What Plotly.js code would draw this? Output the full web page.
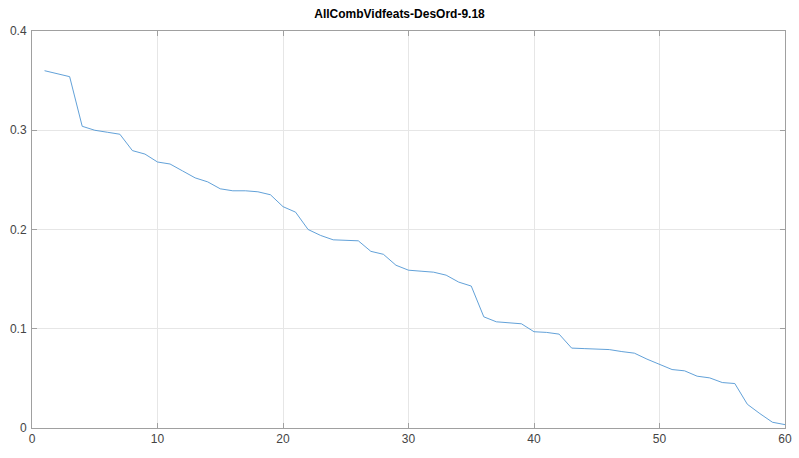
<!DOCTYPE html>
<html>
<head>
<meta charset="utf-8">
<script src="https://cdn.plot.ly/plotly-3.0.1.min.js"></script>
<style>
  html, body { margin: 0; padding: 0; background: #fff; }
  #chart { width: 799px; height: 458px; }
</style>
</head>
<body>
<div id="chart"></div>
<script>
// values, index 1..60
var scoreValues = [0.360, 0.357, 0.354, 0.304, 0.300, 0.298, 0.296, 0.2795, 0.276, 0.268,
                   0.266, 0.259, 0.252, 0.248, 0.241, 0.239, 0.239, 0.238, 0.235, 0.223,
                   0.2175, 0.200, 0.194, 0.1896, 0.189, 0.1886, 0.178, 0.175, 0.164, 0.159,
                   0.158, 0.157, 0.154, 0.147, 0.143, 0.112, 0.107, 0.106, 0.105, 0.097,
                   0.0963, 0.0946, 0.0805, 0.080, 0.0797, 0.079, 0.077, 0.0754, 0.0694, 0.0643,
                   0.0589, 0.0576, 0.0522, 0.0505, 0.0458, 0.0448, 0.0239, 0.0145, 0.0058, 0.0034];
var xTicks = [0, 10, 20, 30, 40, 50, 60];
var yTicks = [0, 0.1, 0.2, 0.3, 0.4];
var chartTitle = 'AllCombVidfeats-DesOrd-9.18';

var xIndex = [];
for(var i=0; i<scoreValues.length; i++){
  xIndex.push(i+1);
}

var trace = {
  x: xIndex,
  y: scoreValues,
  mode: 'lines',
  type: 'scatter',
  line: {color: 'rgb(80,150,212)', width: 0.9},
  hoverinfo: 'none'
};

var axisStyle = {
  showline: true,
  mirror: 'ticks',
  linecolor: '#a0a0a0',
  linewidth: 1,
  ticks: 'inside',
  ticklen: 5,
  tickcolor: '#a0a0a0',
  showgrid: true,
  gridcolor: '#e6e6e6',
  gridwidth: 1,
  zeroline: false,
  tickfont: {family: 'Liberation Sans, Arial, sans-serif', size: 12, color: '#444'}
};

var xaxis = Object.assign({}, axisStyle, {
  range: [0, 60],
  tickmode: 'array',
  tickvals: xTicks,
  ticktext: xTicks.map(String)
});
var yaxis = Object.assign({}, axisStyle, {
  range: [0, 0.4],
  tickmode: 'array',
  tickvals: yTicks,
  ticktext: yTicks.map(String),
  ticklabelstandoff: 2
});

var layout = {
  width: 799,
  height: 458,
  margin: {l: 32, r: 14, t: 31, b: 30},
  paper_bgcolor: '#fff',
  plot_bgcolor: '#fff',
  showlegend: false,
  title: {
    text: '<b>' + chartTitle + '</b>',
    x: 0.5,
    xanchor: 'center',
    y: 1 - 14/458,
    yanchor: 'middle',
    font: {family: 'Liberation Sans, Arial, sans-serif', size: 12, color: '#000'}
  },
  xaxis: xaxis,
  yaxis: yaxis
};

Plotly.newPlot('chart', [trace], layout, {staticPlot: true, displayModeBar: false});
</script>
</body>
</html>
